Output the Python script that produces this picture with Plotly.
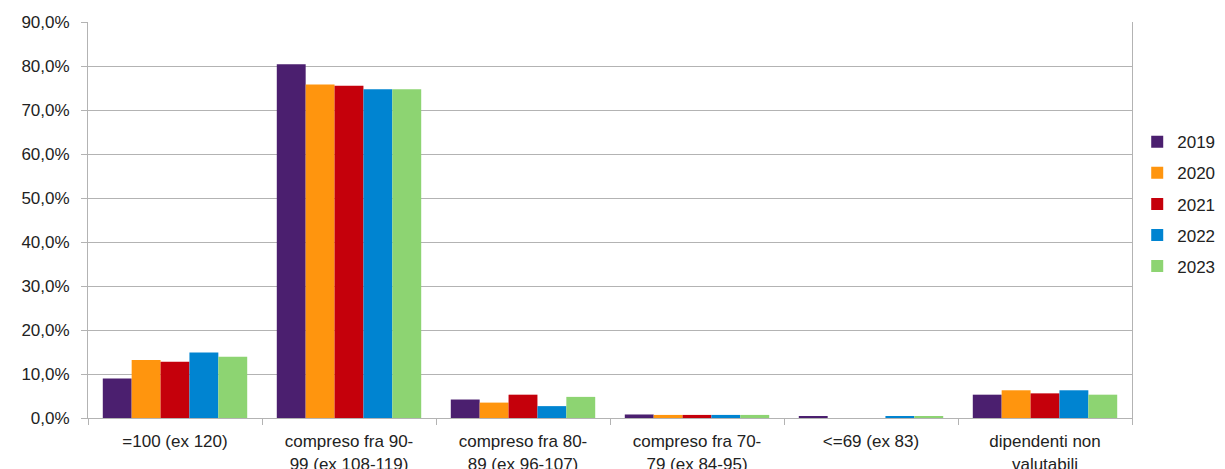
import plotly.graph_objects as go

categories = [
    "=100 (ex 120)",
    "compreso fra 90-<br>99 (ex 108-119)",
    "compreso fra 80-<br>89 (ex 96-107)",
    "compreso fra 70-<br>79 (ex 84-95)",
    "<=69 (ex 83)",
    "dipendenti non<br>valutabili",
]
years = ["2019", "2020", "2021", "2022", "2023"]
v2019 = [0.090, 0.804, 0.042, 0.008, 0.004, 0.053]
v2020 = [0.132, 0.758, 0.035, 0.007, 0.0, 0.063]
v2021 = [0.128, 0.755, 0.053, 0.007, 0.0, 0.056]
v2022 = [0.149, 0.747, 0.027, 0.007, 0.003, 0.063]
v2023 = [0.139, 0.747, 0.048, 0.007, 0.003, 0.053]
series = [v2019, v2020, v2021, v2022, v2023]
colors = ["#4b1f6f", "#ff950e", "#c5000b", "#0084d1", "#8dd472"]

fig = go.Figure()
for y, vals, c in zip(years, series, colors):
    fig.add_trace(go.Bar(name=y, x=categories, y=vals, marker_color=c,
                         marker_line_width=0, legendgroup=y))

grid = "#b3b3b3"
fig.update_layout(
    width=1225, height=469,
    margin=dict(l=88, r=93, t=22, b=51, autoexpand=False),
    paper_bgcolor="white", plot_bgcolor="white",
    barmode="group", bargap=0.17, bargroupgap=0,
    separators=",.",
    font=dict(family="Liberation Sans, Arial, sans-serif", size=17, color="#222222"),
    legend=dict(x=1.005, y=0.54, xanchor="left", yanchor="middle",
                tracegroupgap=6, font=dict(size=17)),
    showlegend=True,
)
fig.update_yaxes(range=[0, 0.9], dtick=0.1, tickformat=".1%",
                 showgrid=True, gridcolor=grid, gridwidth=1,
                 showline=True, linecolor=grid, mirror=True,
                 ticks="outside", ticklen=6, tickcolor=grid,
                 ticklabelstandoff=8, zeroline=False)
fig.update_xaxes(showline=True, linecolor=grid, ticks="outside",
                 tickson="boundaries", ticklen=6, tickcolor=grid,
                 ticklabelstandoff=8, showgrid=False)

fig.write_html("out.html")
